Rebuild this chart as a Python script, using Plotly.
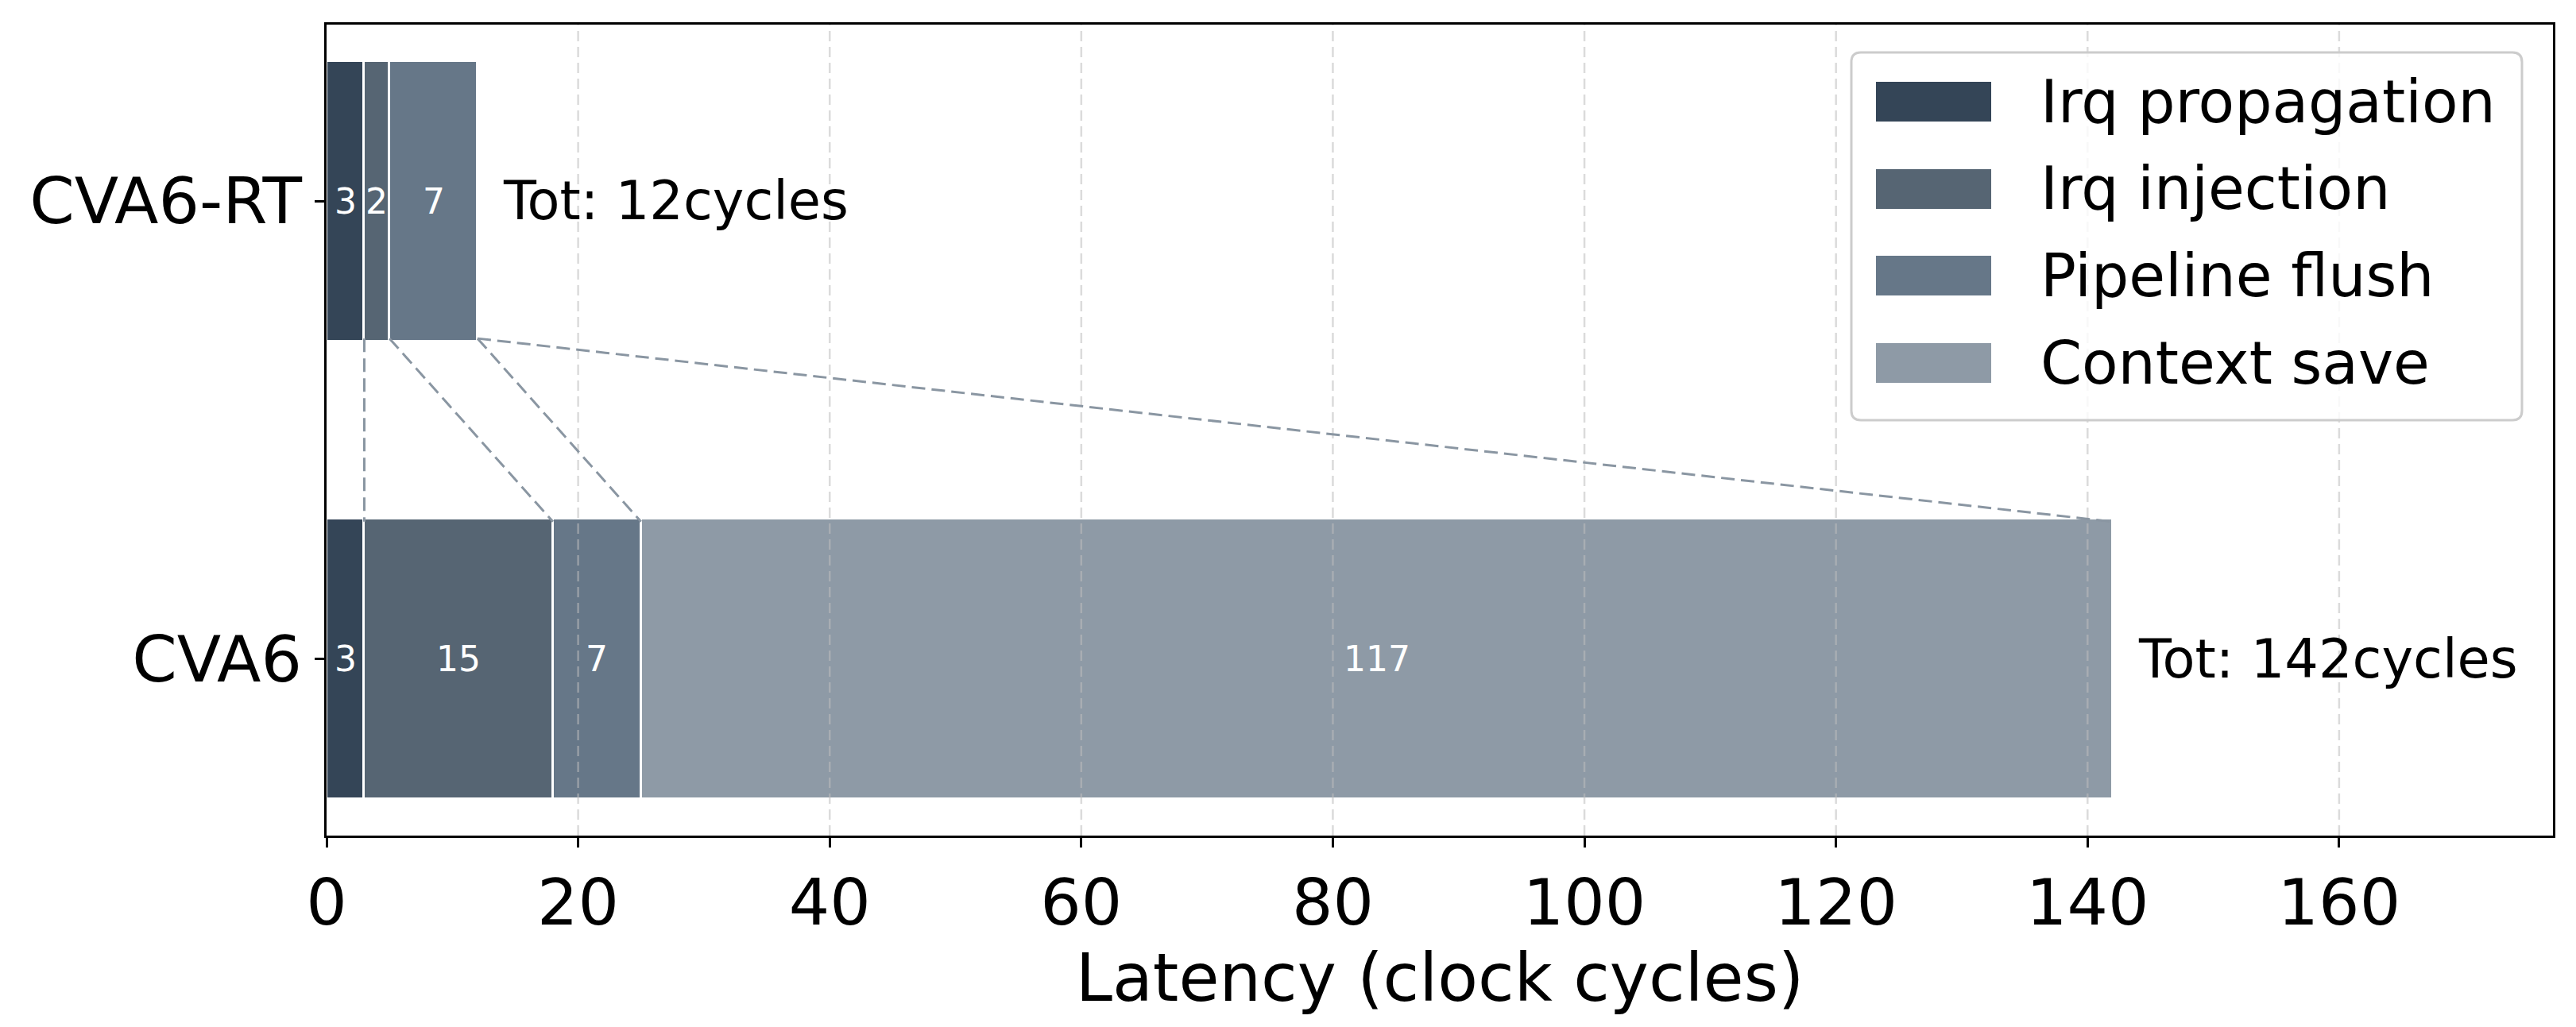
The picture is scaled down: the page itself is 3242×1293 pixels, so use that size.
import plotly.graph_objects as go
import numpy as np

# ---------------- data ----------------
categories = ["CVA6", "CVA6-RT"]
stages = ["Irq propagation", "Irq injection", "Pipeline flush", "Context save"]
cva6 = [3, 15, 7, 117]
cva6_rt = [3, 2, 7, 0]
x_ticks = [0, 20, 40, 60, 80, 100, 120, 140, 160]
x_title = "Latency (clock cycles)"

# ---------------- style ----------------
colors = ["#344557", "#566573", "#667788", "#8e9aa6"]
FONT = "DejaVu Sans"
W, H = 3242, 1293
L, R, T, B = 411, 3213, 31, 1052
bar_w = 0.6

def px2x(px):
    return (px - L) / (R - L)

def py2y(py):
    return (B - py) / (B - T)

values = np.array([cva6, cva6_rt])  # rows follow categories order
ypos = list(range(len(categories)))
totals = values.sum(axis=1)
xmax = 177.0

fig = go.Figure()
for j, st in enumerate(stages):
    fig.add_trace(go.Bar(
        y=ypos, x=values[:, j], orientation="h", width=bar_w + 0.012, name=st,
        marker=dict(color=colors[j], line=dict(color="white", width=3)),
        showlegend=False, hoverinfo="x+name",
    ))

annotations = []
# segment labels
cum = np.cumsum(values, axis=1)
for i in range(len(categories)):
    for j in range(len(stages)):
        v = values[i, j]
        if v > 0:
            annotations.append(dict(
                x=cum[i, j] - v / 2, y=ypos[i], xref="x", yref="y",
                text=str(v), showarrow=False,
                font=dict(family=FONT, size=44, color="white"),
                xanchor="center", yanchor="middle"))
    annotations.append(dict(
        x=totals[i] + 1.9, y=ypos[i], xref="x", yref="y",
        text=f"Tot: {totals[i]}cycles", showarrow=False,
        font=dict(family=FONT, size=67, color="black"),
        xanchor="left", yanchor="middle"))

shapes = []
# gridlines above bars (dashed, light)
for t in x_ticks[1:]:
    shapes.append(dict(type="line", xref="x", yref="paper", x0=t, x1=t, y0=0, y1=1,
                       line=dict(color="rgba(190,190,190,0.55)", width=2.5, dash="13px,7px"),
                       layer="above"))

# connecting dashed lines between the two bars
i_rt = categories.index("CVA6-RT")
i_c = categories.index("CVA6")
for j in range(len(stages)):
    shapes.append(dict(type="line", xref="x", yref="y",
                       x0=cum[i_rt, j], y0=ypos[i_rt] - bar_w / 2,
                       x1=cum[i_c, j], y1=ypos[i_c] + bar_w / 2,
                       line=dict(color="#8a96a2", width=3, dash="17px,8px"),
                       layer="above"))

# custom legend (box)
lx0, lx1, ly0, ly1, rad = 2330, 3174, 66, 529, 12
def P(px, py):
    return f"{px2x(px):.6f},{py2y(py):.6f}"
path = (f"M {P(lx0+rad, ly0)} L {P(lx1-rad, ly0)} Q {P(lx1, ly0)} {P(lx1, ly0+rad)} "
        f"L {P(lx1, ly1-rad)} Q {P(lx1, ly1)} {P(lx1-rad, ly1)} "
        f"L {P(lx0+rad, ly1)} Q {P(lx0, ly1)} {P(lx0, ly1-rad)} "
        f"L {P(lx0, ly0+rad)} Q {P(lx0, ly0)} {P(lx0+rad, ly0)} Z")
shapes.append(dict(type="path", xref="paper", yref="paper", path=path,
                   fillcolor="rgba(255,255,255,0.8)",
                   line=dict(color="#cccccc", width=3), layer="above"))
row_centers = [128, 238, 347, 457]
for j, st in enumerate(stages):
    cy = row_centers[j]
    shapes.append(dict(type="rect", xref="paper", yref="paper",
                       x0=px2x(2361), x1=px2x(2506), y0=py2y(cy + 25), y1=py2y(cy - 25),
                       fillcolor=colors[j], line=dict(width=0), layer="above"))
    annotations.append(dict(x=px2x(2566), y=py2y(cy), xref="paper", yref="paper",
                            text=st, showarrow=False, xanchor="left", yanchor="middle",
                            font=dict(family=FONT, size=74.5, color="black")))

fig.update_layout(
    width=W, height=H, barmode="stack", bargap=0,
    margin=dict(l=L, r=W - R, t=T, b=H - B, pad=0),
    paper_bgcolor="white", plot_bgcolor="white",
    font=dict(family=FONT, color="black"),
    shapes=shapes, annotations=annotations, showlegend=False,
    xaxis=dict(range=[0, xmax], tickvals=x_ticks, ticktext=[str(t) for t in x_ticks],
               showgrid=False, zeroline=False,
               showline=True, linecolor="black", linewidth=2.5, mirror=True,
               ticks="outside", ticklen=12, tickwidth=2.5, tickcolor="black",
               tickfont=dict(family=FONT, size=81, color="black"),
               title=dict(text=x_title, font=dict(family=FONT, size=83, color="black"), standoff=18)),
    yaxis=dict(range=[-0.385, 1.385], tickvals=ypos, ticktext=categories,
               showgrid=False, zeroline=False,
               showline=True, linecolor="black", linewidth=2.5, mirror=True,
               ticks="outside", ticklen=12, tickwidth=2.5, tickcolor="black",
               tickfont=dict(family=FONT, size=81, color="black")),
)

fig.write_html("out.html")
